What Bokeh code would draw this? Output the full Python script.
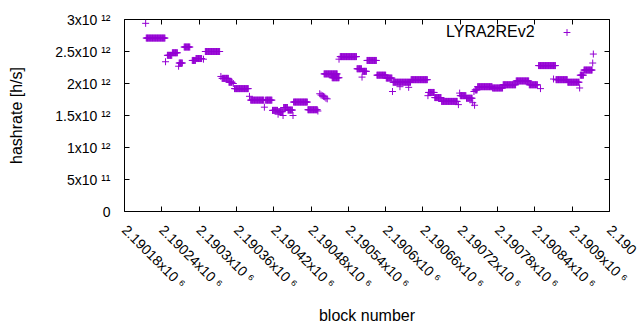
import numpy as np
from bokeh.plotting import figure
from bokeh.models import (Range1d, FixedTicker, LinearAxis, Legend, LegendItem,
                          ColumnDataSource)
from bokeh.embed import file_html
from bokeh.resources import INLINE

# runs of consecutive blocks sharing the same hashrate estimate
run_first = [2190214, 2190215, 2190246, 2190249, 2190257, 2190267, 2190268, 2190276,
             2190289, 2190295, 2190307, 2190310, 2190335, 2190337, 2190348, 2190355,
             2190357, 2190381, 2190383, 2190405, 2190407, 2190418, 2190427, 2190428,
             2190435, 2190436, 2190443, 2190451, 2190452, 2190475, 2190491,
             2190494, 2190496, 2190498, 2190500, 2190502, 2190504, 2190506,
             2190501, 2190514, 2190525, 2190527, 2190554, 2190562, 2190563, 2190570,
             2190586, 2190601, 2190611, 2190612, 2190623, 2190637, 2190641, 2190668,
             2190669, 2190679, 2190690, 2190717, 2190719, 2190720, 2190730, 2190740,
             2190742, 2190743, 2190744, 2190748, 2190772, 2190789, 2190810, 2190831,
             2190849, 2190846, 2190870, 2190874, 2190893, 2190912, 2190913, 2190919,
             2190933, 2190934]
run_last = [2190214, 2190245, 2190246, 2190256, 2190265, 2190267, 2190273, 2190285,
            2190294, 2190304, 2190307, 2190333, 2190335, 2190347, 2190353, 2190355,
            2190379, 2190381, 2190404, 2190405, 2190417, 2190426, 2190427, 2190434,
            2190435, 2190442, 2190450, 2190451, 2190474, 2190490, 2190491,
            2190494, 2190496, 2190498, 2190500, 2190502, 2190504, 2190506,
            2190522, 2190525, 2190525, 2190553, 2190561, 2190562, 2190569, 2190585,
            2190600, 2190610, 2190611, 2190640, 2190623, 2190637, 2190667, 2190668,
            2190678, 2190689, 2190715, 2190717, 2190719, 2190729, 2190739, 2190740,
            2190742, 2190743, 2190747, 2190771, 2190788, 2190809, 2190830, 2190844,
            2190849, 2190873, 2190870, 2190892, 2190911, 2190912, 2190918, 2190932,
            2190933, 2190934]
run_value = [2.94e12, 2.71e12, 2.34e12, 2.44e12, 2.48e12, 2.27e12, 2.32e12, 2.57e12,
             2.36e12, 2.39e12, 2.38e12, 2.50e12, 2.11e12, 2.08e12, 2.02e12, 2.00e12,
             1.92e12, 1.80e12, 1.74e12, 1.63e12, 1.74e12, 1.58e12, 1.52e12, 1.56e12,
             1.50e12, 1.625e12, 1.585e12, 1.50e12, 1.71e12, 1.59e12, 1.57e12,
             1.84e12, 1.82e12, 1.81e12, 1.80e12, 1.79e12, 1.77e12, 1.76e12,
             2.15e12, 2.09e12, 2.38e12, 2.42e12, 2.23e12, 2.10e12, 2.19e12, 2.36e12,
             2.13e12, 2.085e12, 1.875e12, 2.02e12, 1.95e12, 1.94e12, 2.06e12, 1.81e12,
             1.86e12, 1.78e12, 1.72e12, 1.67e12, 1.85e12, 1.81e12, 1.77e12, 1.70e12,
             1.875e12, 1.66e12, 1.90e12, 1.95e12, 1.93e12, 1.98e12, 2.04e12, 1.98e12,
             1.92e12, 2.28e12, 2.07e12, 2.06e12, 2.02e12, 1.93e12, 2.13e12, 2.21e12,
             2.32e12, 2.46e12]

x_ticks = [2190180, 2190240, 2190300, 2190360, 2190420, 2190480, 2190540,
           2190600, 2190660, 2190720, 2190780, 2190840, 2190900, 2190960]
# last label is cut by the window edge in the original; only its visible start is kept
x_tick_labels = ["2.19018x10 ⁶", "2.19024x10 ⁶", "2.1903x10 ⁶", "2.19036x10 ⁶",
                 "2.19042x10 ⁶", "2.19048x10 ⁶", "2.19054x10 ⁶", "2.1906x10 ⁶",
                 "2.19066x10 ⁶", "2.19072x10 ⁶", "2.19078x10 ⁶", "2.19084x10 ⁶",
                 "2.1909x10 ⁶", "2.190"]
y_ticks = [0, 5e11, 1e12, 1.5e12, 2e12, 2.5e12, 3e12]
y_tick_labels = ["0", "5x10 ¹¹", "1x10 ¹²", "1.5x10 ¹²", "2x10 ¹²", "2.5x10 ¹²", "3x10 ¹²"]

series_name = "LYRA2REv2"
x_label = "block number"
y_label = "hashrate [h/s]"

blocks = np.concatenate([np.arange(a, b + 1) for a, b in zip(run_first, run_last)])
rates = np.concatenate([np.full(b - a + 1, v) for a, b, v in zip(run_first, run_last, run_value)])
src = ColumnDataSource(dict(block=blocks, rate=rates))

FONT = "Liberation Sans"
COLOR = "#9400d3"

p = figure(width=640, height=330, output_backend="svg", toolbar_location=None,
           x_range=Range1d(x_ticks[0], x_ticks[-1]), y_range=Range1d(y_ticks[0], y_ticks[-1]),
           min_border_left=124, min_border_right=31, min_border_top=19,
           min_border_bottom=119, x_axis_label=x_label, y_axis_label=y_label)
p.xgrid.visible = False
p.ygrid.visible = False
p.outline_line_color = "black"
p.outline_line_width = 1
p.background_fill_color = "white"
p.border_fill_color = "white"

p.xaxis.ticker = FixedTicker(ticks=x_ticks)
p.xaxis.major_label_overrides = dict(zip(x_ticks, x_tick_labels))
p.yaxis.ticker = FixedTicker(ticks=y_ticks)
p.yaxis.major_label_overrides = dict(zip(y_ticks, y_tick_labels))
p.xaxis.major_label_orientation = -np.pi / 4

for ax in (p.xaxis[0], p.yaxis[0]):
    ax.axis_line_color = None
    ax.major_tick_out = 0
    ax.major_tick_in = 5
    ax.major_tick_line_color = "black"
    ax.minor_tick_line_color = None
    ax.major_label_text_font = FONT
    ax.major_label_text_font_size = "14px"
    ax.major_label_text_color = "black"
    ax.axis_label_text_font = FONT
    ax.axis_label_text_font_size = "16px"
    ax.axis_label_text_font_style = "normal"
    ax.axis_label_text_color = "black"
p.xaxis.major_label_standoff = 16
p.yaxis.major_label_standoff = 14
p.xaxis.axis_label_standoff = 7
p.yaxis.axis_label_standoff = 27

top = LinearAxis(ticker=FixedTicker(ticks=x_ticks), major_label_text_font_size="1px",
                 major_label_text_color=None, major_label_standoff=0,
                 axis_line_color=None, major_tick_in=5, major_tick_out=0,
                 minor_tick_line_color=None)
p.add_layout(top, "above")
right = LinearAxis(ticker=FixedTicker(ticks=y_ticks), major_label_text_font_size="1px",
                   major_label_text_color=None, major_label_standoff=0,
                   axis_line_color=None, major_tick_in=5, major_tick_out=0,
                   minor_tick_line_color=None)
p.add_layout(right, "right")

r = p.scatter(x="block", y="rate", source=src, marker="cross", size=7,
              line_width=1, color=COLOR)

leg_text = Legend(items=[LegendItem(label=series_name, renderers=[r])],
                  location=(322, 169), glyph_width=0, glyph_height=20,
                  label_standoff=0, padding=0, margin=0, label_height=20,
                  border_line_color=None, background_fill_alpha=0,
                  label_text_font=FONT, label_text_font_size="16px",
                  label_text_color="black")
leg_mark = Legend(items=[LegendItem(label=" ", renderers=[r])],
                  location=(434, 169), glyph_width=17, glyph_height=20,
                  label_standoff=0, padding=0, margin=0, label_height=20,
                  border_line_color=None, background_fill_alpha=0,
                  label_text_font=FONT, label_text_font_size="16px")
p.add_layout(leg_text)
p.add_layout(leg_mark)

open("out.html", "w").write(file_html(p, INLINE))
